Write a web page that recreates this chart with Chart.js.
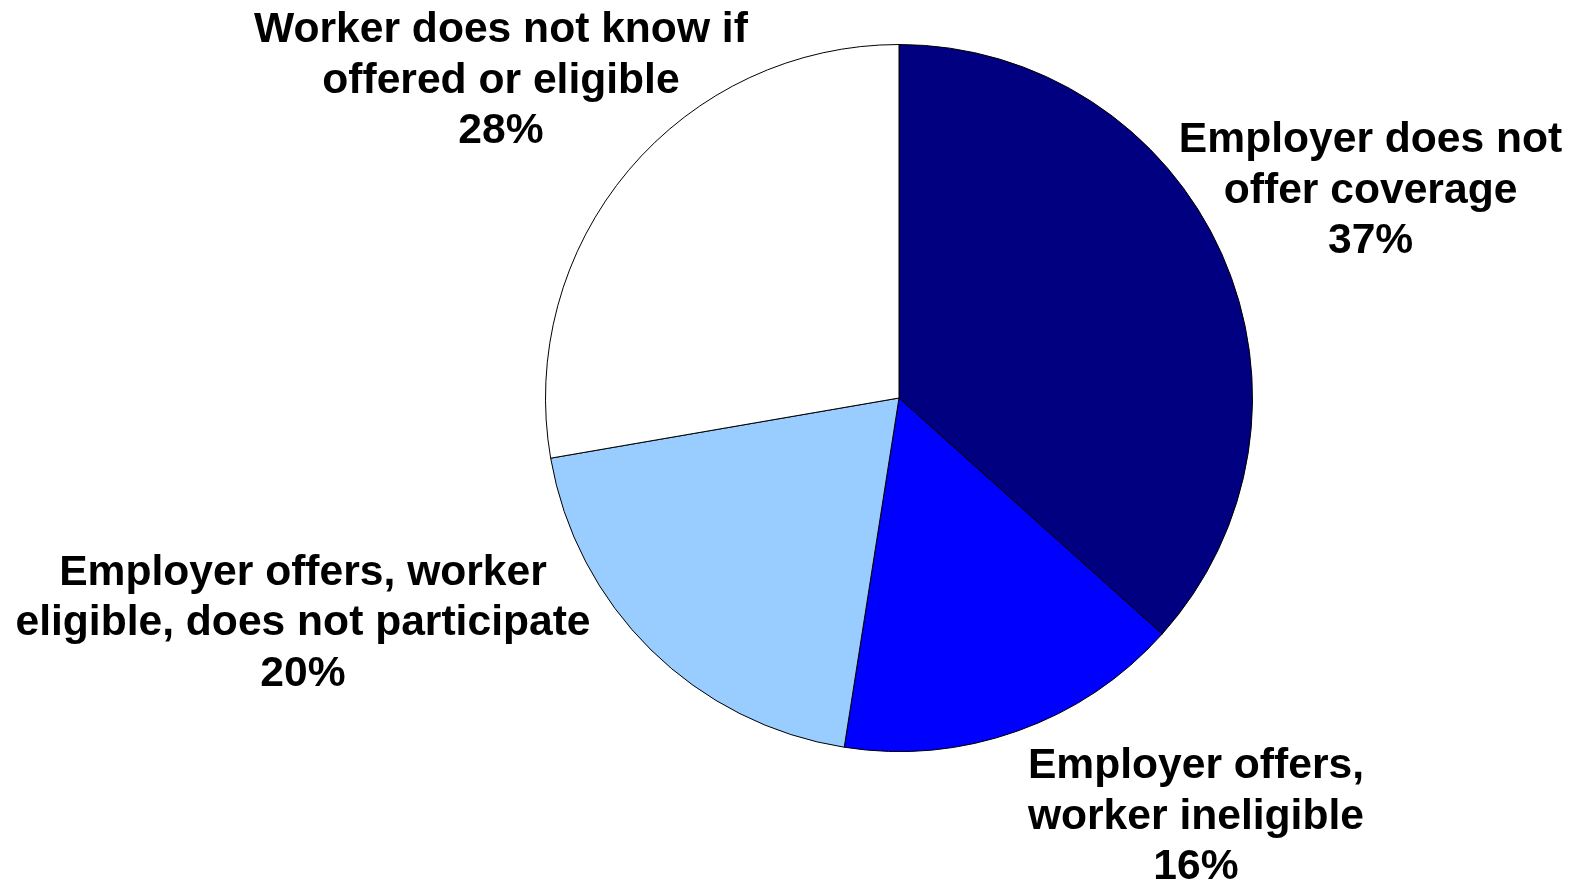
<!DOCTYPE html>
<html>
<head>
<meta charset="utf-8">
<title>Coverage status of workers</title>
<script src="https://cdn.jsdelivr.net/npm/chart.js@4/dist/chart.umd.min.js"></script>
<style>
  html, body { margin: 0; padding: 0; background: #ffffff; }
  #wrap { position: absolute; left: 0; top: 0; width: 1573px; height: 883px; }
</style>
</head>
<body>
<div id="wrap"><canvas id="pie"></canvas></div>
<script>
// Slice categories, each split into the lines shown in its label
const categories = [
  ["Employer does not", "offer coverage"],
  ["Employer offers,", "worker ineligible"],
  ["Employer offers, worker", "eligible, does not participate"],
  ["Worker does not know if", "offered or eligible"]
];
// Share of workers in each category (percent)
const shares = [37, 16, 20, 28];
// Slice fills
const sliceColors = ["#000080", "#0000FF", "#99CCFF", "#FFFFFF"];

// Label anchor (centre x, first baseline) relative to the pie centre, in radii
const labelOffsets = [
  [1.334, -0.695],
  [0.840, 1.076],
  [-1.686, 0.528],
  [-1.126, -1.006]
];

const labelFont = "bold 42.6px 'Liberation Sans', Arial, sans-serif";
const lineHeight = 50.5;

const sliceLabels = {
  id: "sliceLabels",
  afterDraw(chart) {
    const ctx = chart.ctx;
    const meta = chart.getDatasetMeta(0);
    ctx.save();
    ctx.font = labelFont;
    ctx.fillStyle = "#000000";
    ctx.textAlign = "center";
    ctx.textBaseline = "alphabetic";
    meta.data.forEach((arc, i) => {
      const r = arc.outerRadius;
      const cx = arc.x + labelOffsets[i][0] * r;
      const cy = arc.y + labelOffsets[i][1] * r;
      const lines = categories[i].concat([shares[i] + "%"]);
      lines.forEach((line, k) => ctx.fillText(line, cx, cy + k * lineHeight));
    });
    ctx.restore();
  }
};

new Chart(document.getElementById("pie"), {
  type: "pie",
  data: {
    labels: categories.map(c => c.join(" ")),
    datasets: [{
      data: shares,
      backgroundColor: sliceColors,
      borderColor: "#000000",
      borderWidth: 1
    }]
  },
  options: {
    responsive: true,
    maintainAspectRatio: false,
    animation: false,
    layout: { padding: { left: 545, right: 320, top: 44, bottom: 131 } },
    plugins: {
      legend: { display: false },
      tooltip: { enabled: false }
    }
  },
  plugins: [sliceLabels]
});
</script>
</body>
</html>
